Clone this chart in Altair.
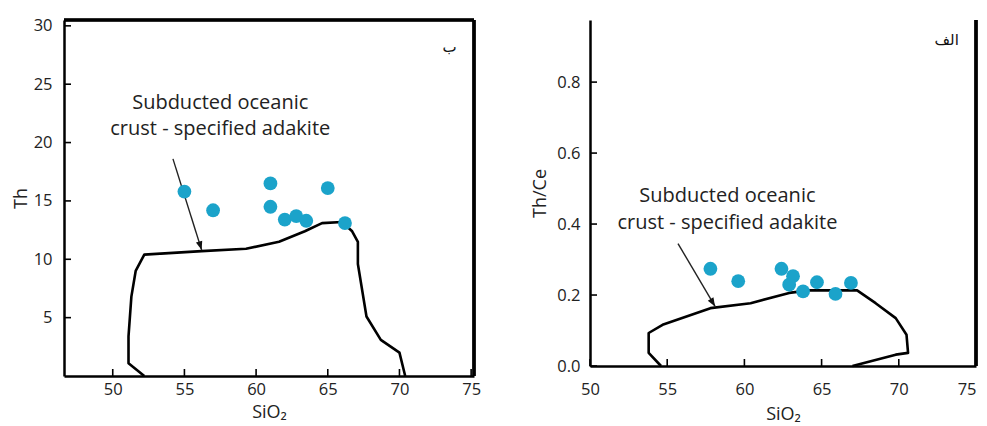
import altair as alt
import pandas as pd

FONT = "Open Sans"
DOT = "#1BA3CA"

# ---- Left panel (Th vs SiO2) ----
th_sio2 = [55.0, 57.0, 61.0, 61.0, 62.0, 62.8, 63.5, 65.0, 66.2]
th_val = [15.8, 14.2, 16.5, 14.5, 13.4, 13.7, 13.3, 16.1, 13.1]

poly_l_x = [52.2, 51.1, 51.1, 51.3, 51.6, 52.2, 56.2, 59.3, 61.6, 63.4, 64.6, 66.0,
            66.7, 67.1, 67.1, 67.7, 68.7, 70.0, 70.4]
poly_l_y = [0.0, 1.1, 3.4, 6.8, 9.0, 10.4, 10.7, 10.9, 11.5, 12.4, 13.1, 13.2,
            12.4, 11.5, 9.6, 5.1, 3.1, 2.0, 0.0]

arrow_l_x = [54.2, 56.2]
arrow_l_y = [18.6, 10.8]

label_lines = ["Subducted oceanic", "crust - specified adakite"]
label_l_x = [57.5, 57.5]
label_l_y = [23.4, 21.2]

tag_l = "ب"
tag_l_x = [73.5]
tag_l_y = [28.2]

xticks = [50, 55, 60, 65, 70, 75]
yticks_l = [5, 10, 15, 20, 25, 30]

# ---- Right panel (Th/Ce vs SiO2) ----
thce_sio2 = [57.8, 59.6, 62.4, 63.15, 62.9, 63.8, 64.7, 65.9, 66.9]
thce_val = [0.274, 0.239, 0.274, 0.253, 0.229, 0.210, 0.236, 0.203, 0.234]

poly_r_x = [54.6, 53.8, 53.8, 54.7, 57.8, 60.4, 62.9, 64.2, 67.3, 68.5, 69.8,
            70.5, 70.6, 69.8, 67.0]
poly_r_y = [0.0, 0.037, 0.093, 0.116, 0.163, 0.177, 0.206, 0.213, 0.213, 0.177,
            0.135, 0.088, 0.037, 0.032, 0.0]

arrow_r_x = [55.7, 58.1]
arrow_r_y = [0.345, 0.168]

label_r_x = [58.9, 58.9]
label_r_y = [0.478, 0.402]

tag_r = "الف"
tag_r_x = [73.1]
tag_r_y = [0.92]

yticks_r = [0.0, 0.2, 0.4, 0.6, 0.8]

ARROW_PATH = "M0,0L-0.38,-1L0.38,-1Z"


def panel(px, py, polx, poly, arx, ary, arrow_angle, lx, ly, tag, tx, ty,
          xdom, ydom, yticks, yfmt, ytitle, W, H, ylabpad, ytitlepad,
          xlabpad, xtitlepad, full_frame, last_right):
    xs = alt.Scale(domain=xdom, nice=False, zero=False)
    ys = alt.Scale(domain=ydom, nice=False, zero=False)
    if last_right:
        lab_align = {"condition": {"test": "datum.value == 75", "value": "right"},
                     "value": "center"}
    else:
        lab_align = "center"
    xaxis = alt.Axis(values=xticks, tickSize=0, labelPadding=xlabpad,
                     labelFontSize=16.5, labelFont=FONT, labelColor="#222",
                     labelAlign=lab_align, title="SiO₂",
                     titleFont=FONT, titleFontSize=18, titleFontWeight="normal",
                     titlePadding=xtitlepad, titleColor="#222", domainColor="black",
                     domainWidth=2.5, grid=False, labelFlush=False)
    yaxis = alt.Axis(values=yticks, format=yfmt, tickSize=0, labelPadding=ylabpad,
                     labelFontSize=16.5, labelFont=FONT, labelColor="#222",
                     title=ytitle, titleFont=FONT, titleFontSize=18,
                     titleFontWeight="normal", titlePadding=ytitlepad,
                     titleColor="#222", domainColor="black", domainWidth=2.5,
                     grid=False, labelFlush=False)

    pts = pd.DataFrame({"x": px, "y": py})
    poly_df = pd.DataFrame({"x": polx, "y": poly, "o": list(range(len(polx)))})
    arr_df = pd.DataFrame({"x": arx, "y": ary})
    head_df = pd.DataFrame({"x": [arx[1]], "y": [ary[1]]})
    lab_df = pd.DataFrame({"x": lx, "y": ly, "t": label_lines})
    tag_df = pd.DataFrame({"x": tx, "y": ty, "t": [tag]})
    xt_df = pd.DataFrame({"v": xticks})
    yt_df = pd.DataFrame({"v": yticks})

    base_axes = alt.Chart(pts).mark_point(opacity=0).encode(
        x=alt.X("x:Q", scale=xs, axis=xaxis),
        y=alt.Y("y:Q", scale=ys, axis=yaxis),
    )
    polyline = alt.Chart(poly_df).mark_line(color="black", strokeWidth=2.6,
                                            strokeJoin="round").encode(
        x=alt.X("x:Q", scale=xs), y=alt.Y("y:Q", scale=ys), order="o:Q")
    dots = alt.Chart(pts).mark_circle(size=190, color=DOT, opacity=1).encode(
        x=alt.X("x:Q", scale=xs), y=alt.Y("y:Q", scale=ys))
    shaft = alt.Chart(arr_df).mark_line(color="#222", strokeWidth=1.4).encode(
        x=alt.X("x:Q", scale=xs), y=alt.Y("y:Q", scale=ys))
    head = alt.Chart(head_df).mark_point(shape=ARROW_PATH, filled=True, size=300,
                                         color="#111", opacity=1,
                                         angle=arrow_angle).encode(
        x=alt.X("x:Q", scale=xs), y=alt.Y("y:Q", scale=ys))
    text = alt.Chart(lab_df).mark_text(font=FONT, fontSize=20, color="#222",
                                       align="center", baseline="middle").encode(
        x=alt.X("x:Q", scale=xs), y=alt.Y("y:Q", scale=ys), text="t:N")
    tagm = alt.Chart(tag_df).mark_text(font="DejaVu Sans", fontSize=15,
                                       color="#111",
                                       align="center", baseline="middle").encode(
        x=alt.X("x:Q", scale=xs), y=alt.Y("y:Q", scale=ys), text="t:N")
    xt = alt.Chart(xt_df).mark_rule(color="black", strokeWidth=1.6).encode(
        x=alt.X("v:Q", scale=xs), y=alt.value(H), y2=alt.value(H - 7))
    yt = alt.Chart(yt_df).mark_rule(color="black", strokeWidth=1.6).encode(
        y=alt.Y("v:Q", scale=ys), x=alt.value(0), x2=alt.value(7))
    right_border = alt.Chart(xt_df).mark_rule(color="black", strokeWidth=2.6).encode(
        x=alt.value(W), y=alt.value(0), y2=alt.value(H))
    layers = [base_axes, xt, yt, right_border, polyline, shaft, head, dots, text, tagm]
    if full_frame:
        top_border = alt.Chart(xt_df).mark_rule(color="black", strokeWidth=2.6).encode(
            y=alt.value(0), x=alt.value(0), x2=alt.value(W))
        layers.append(top_border)
    return alt.layer(*layers).properties(width=W, height=H)


left = panel(th_sio2, th_val, poly_l_x, poly_l_y, arrow_l_x, arrow_l_y, 343,
             label_l_x, label_l_y, tag_l, tag_l_x, tag_l_y,
             [46.6, 75.2], [0, 30.5], yticks_l, "d", "Th", 410, 356,
             12, 3, 5, 6, True, False)
right = panel(thce_sio2, thce_val, poly_r_x, poly_r_y, arrow_r_x, arrow_r_y, 329,
              label_r_x, label_r_y, tag_r, tag_r_x, tag_r_y,
              [50, 75], [0, 0.975], yticks_r, ".1f", "Th/Ce", 386, 346,
              10, 7, 15, 8, False, True)

chart = alt.hconcat(left, right, spacing=50).properties(
    padding={"left": 4, "top": 9, "right": 0, "bottom": 0},
    background="white",
).configure_view(stroke=None)

chart.save("out.html", embed_options={"renderer": "svg", "actions": False})
